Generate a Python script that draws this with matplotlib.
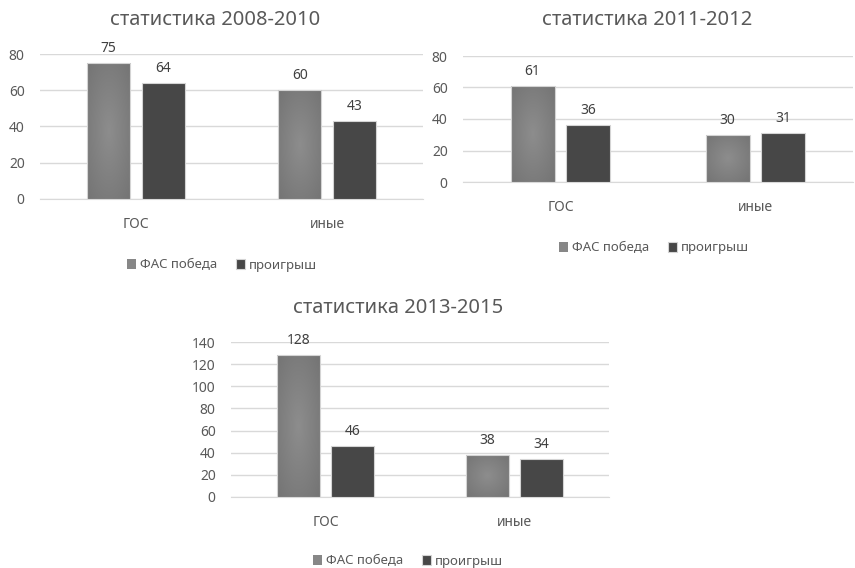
import matplotlib
matplotlib.use('Agg')
from matplotlib import pyplot as plt
from matplotlib.colors import LinearSegmentedColormap
import numpy as np

plt.rcParams['font.family'] = ['Noto Sans', 'DejaVu Sans']

# data
categories = ['ГОС', 'иные']
series_names = ['ФАС победа', 'проигрыш']

titles = ['статистика 2008-2010', 'статистика 2011-2012', 'статистика 2013-2015']
fas_win = [[75, 60], [61, 30], [128, 38]]
fas_lose = [[64, 43], [36, 31], [46, 34]]
y_max = [80, 80, 140]
y_step = [20, 20, 20]

light = '#878787'
dark = '#474747'
edge_c = '#d4d4d4'
grid_c = '#d9d9d9'
text_c = '#595959'

# soft radial shading of the light bars (as in the Excel original)
shade = LinearSegmentedColormap.from_list('shade', ['#8d8d8d', '#747474'])
yy, xx = np.mgrid[-1:1:60j, -1:1:60j]
radial = np.sqrt(xx ** 2 + yy ** 2) / np.sqrt(2)

W, H = 855, 568
fig = plt.figure(figsize=(W / 100, H / 100), dpi=100)

# plot boxes in pixels: left, right, top(max gridline), bottom(zero line)
boxes = [(40, 423, 54, 199), (463, 853, 56, 182), (231, 609, 342, 497)]
titles_xy = [(215, 20), (647, 20), (398, 308)]
legend_xy = [(222, 265), (654, 248), (408, 561)]

for i in range(3):
    l, r, t, b = boxes[i]
    ax = fig.add_axes([l / W, 1 - b / H, (r - l) / W, (b - t) / H])
    x = np.arange(len(categories))
    w = 0.225
    off = 0.143
    b1 = ax.bar(x - off, fas_win[i], w, color=light, label=series_names[0], zorder=3)
    b2 = ax.bar(x + off, fas_lose[i], w, color=dark, label=series_names[1],
                edgecolor=edge_c, linewidth=0.8, zorder=3)
    for rect in b1:
        x0 = rect.get_x()
        im = ax.imshow(radial, cmap=shade, vmin=0, vmax=1, aspect='auto',
                       extent=[x0, x0 + rect.get_width(), 0, rect.get_height()],
                       zorder=3.05, interpolation='bilinear')
        im.set_clip_path(rect)
    ax.bar(x - off, fas_win[i], w, facecolor='none', edgecolor=edge_c,
           linewidth=0.8, zorder=3.1)
    for bars in (b1, b2):
        for rect in bars:
            ax.annotate(str(int(rect.get_height())),
                        (rect.get_x() + rect.get_width() / 2, rect.get_height()),
                        xytext=(0, 5), textcoords='offset points',
                        ha='center', va='bottom', fontsize=10, color='#404040')
    ax.set_xlim(-0.5, 1.5)
    ax.set_ylim(0, y_max[i])
    ax.set_yticks(np.arange(0, y_max[i] + 1, y_step[i]))
    ax.set_xticks(x)
    ax.set_xticklabels(categories)
    ax.yaxis.grid(True, color=grid_c, linewidth=1, zorder=0)
    ax.set_axisbelow(True)
    for s in ['top', 'right', 'left']:
        ax.spines[s].set_visible(False)
    ax.spines['bottom'].set_color(grid_c)
    ax.tick_params(axis='both', length=0, colors=text_c, labelsize=10)
    ax.tick_params(axis='y', pad=11)
    ax.tick_params(axis='x', pad=13)
    ax.patch.set_alpha(0)
    tx, ty = titles_xy[i]
    fig.text(tx / W, 1 - ty / H, titles[i], ha='center', va='center',
             fontsize=14.5, color=text_c)
    lx, ly = legend_xy[i]
    ax.legend(handles=[b1, b2], loc='center', bbox_to_anchor=(lx / W, 1 - ly / H),
              bbox_transform=fig.transFigure, ncol=2, frameon=False,
              fontsize=9.5, labelcolor=text_c, handlelength=0.7,
              handleheight=0.7, handletextpad=0.3, columnspacing=1.4)

fig.savefig('out.png', dpi=100)
